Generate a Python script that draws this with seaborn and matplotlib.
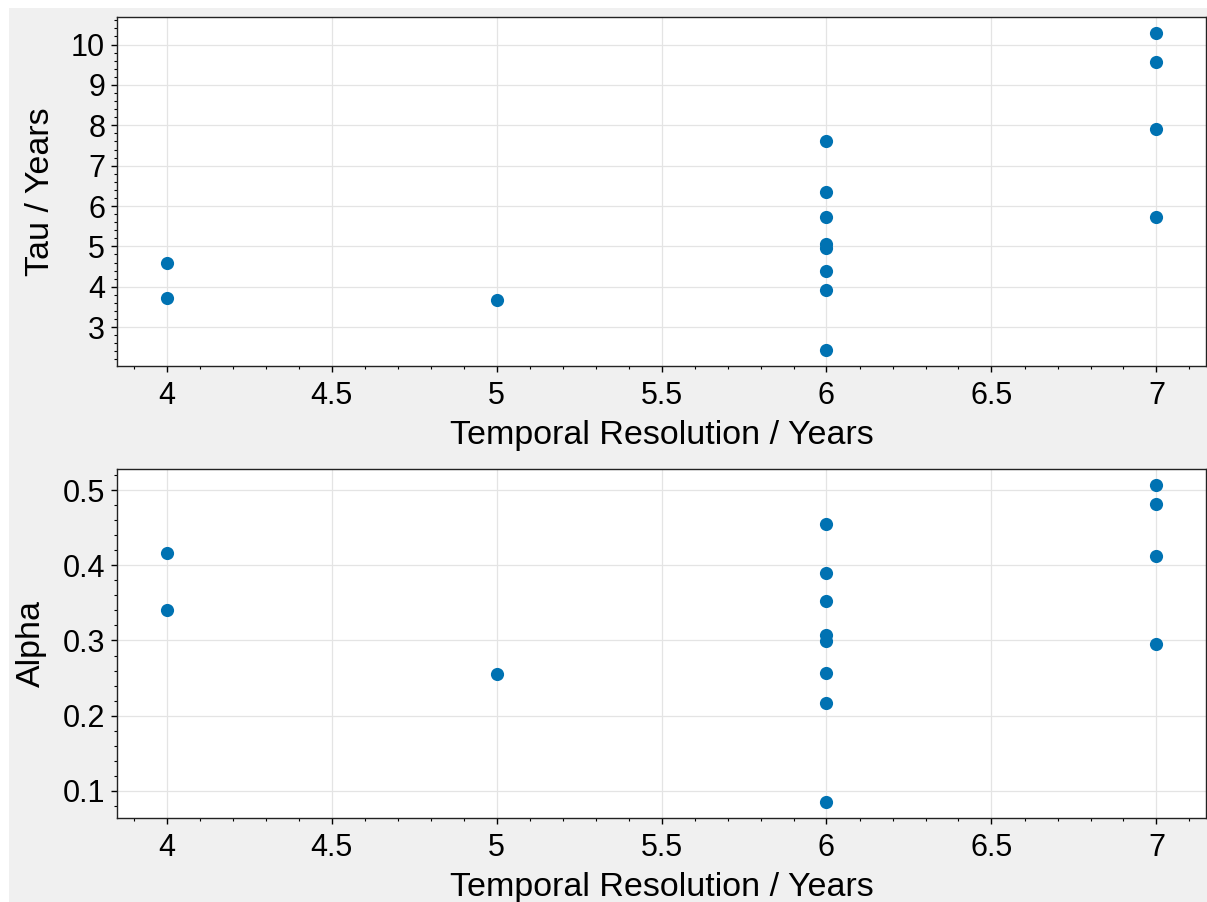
import numpy as np
import pandas as pd
import matplotlib
matplotlib.use("Agg")
import matplotlib.pyplot as plt
import seaborn as sns
from matplotlib.patches import Rectangle
from matplotlib.ticker import MultipleLocator, FuncFormatter

# ---- data ----
resolution = [4, 4, 5, 6, 6, 6, 6, 6, 6, 6, 6, 7, 7, 7, 7]
tau = [4.58, 3.73, 3.66, 7.61, 6.36, 5.74, 5.07, 4.97, 4.40, 3.92, 2.43, 10.29, 9.58, 7.90, 5.74]
alpha = [0.417, 0.341, 0.255, 0.455, 0.390, 0.353, 0.307, 0.299, 0.257, 0.217, 0.085, 0.507, 0.481, 0.412, 0.296]
xlabel = "Temporal Resolution / Years"
ylabels = ["Tau / Years", "Alpha"]

df = pd.DataFrame({"res": resolution, "tau": tau, "alpha": alpha})

sns.set_theme(style="white")
plt.rcParams['font.family'] = ['Liberation Sans', 'DejaVu Sans']
plt.rcParams['text.color'] = 'black'
plt.rcParams['axes.labelcolor'] = 'black'
plt.rcParams['xtick.color'] = 'black'
plt.rcParams['ytick.color'] = 'black'

W, H = 1207, 902
fig = plt.figure(figsize=(W / 100, H / 100), dpi=100)
fig.patch.set_facecolor("white")
fig.patches.append(Rectangle((9 / W, 0), 1 - 9 / W, 1 - 8 / H, transform=fig.transFigure,
                             facecolor="#f0f0f0", edgecolor="none", zorder=-10))

ax1 = fig.add_axes([117 / W, (H - 366) / H, (1206 - 117) / W, (366 - 17) / H])
ax2 = fig.add_axes([117 / W, (H - 818) / H, (1206 - 117) / W, (818 - 469) / H])

color = "#0072B2"

def fmt(v, pos):
    return f"{v:.6g}"

for ax, col, ylab, yminor in [(ax1, "tau", ylabels[0], 0.2), (ax2, "alpha", ylabels[1], 0.02)]:
    sns.scatterplot(data=df, x="res", y=col, ax=ax, color=color, s=90, linewidth=0, zorder=3)
    ax.set_facecolor("white")
    ax.set_xlabel(xlabel, fontsize=24.5, labelpad=7, color="black")
    ax.set_ylabel(ylab, fontsize=24.5, labelpad=11, color="black")
    ax.xaxis.set_major_locator(MultipleLocator(0.5))
    ax.xaxis.set_minor_locator(MultipleLocator(0.1))
    ax.yaxis.set_minor_locator(MultipleLocator(yminor))
    ax.xaxis.set_major_formatter(FuncFormatter(fmt))
    ax.yaxis.set_major_formatter(FuncFormatter(fmt))
    ax.tick_params(axis="both", which="major", direction="out", length=4.5, width=1,
                   labelsize=22, color="black", labelcolor="black", pad=4, bottom=True, left=True)
    ax.tick_params(axis="x", which="major", pad=6)
    ax.tick_params(axis="both", which="minor", direction="out", length=2.5, width=0.8,
                   color="black", bottom=True, left=True)
    ax.grid(True, which="major", color="#e4e4e4", linewidth=0.9, zorder=0)
    ax.set_axisbelow(True)
    for sp in ax.spines.values():
        sp.set_visible(True)
        sp.set_color("#222222")
        sp.set_linewidth(1.0)

ax1.yaxis.set_major_locator(MultipleLocator(1))
ax2.yaxis.set_major_locator(MultipleLocator(0.1))

fig.savefig("out.png", dpi=100, facecolor=fig.get_facecolor())
